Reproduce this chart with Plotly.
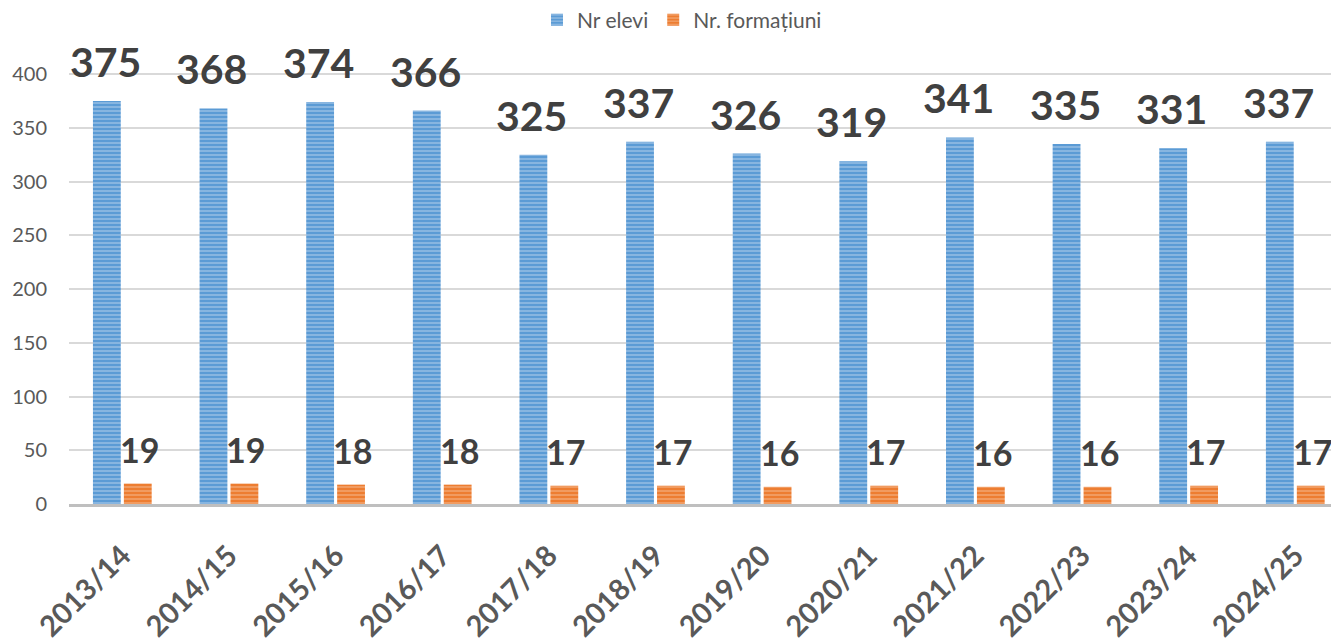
import plotly.graph_objects as go

categories = ["2013/14", "2014/15", "2015/16", "2016/17", "2017/18", "2018/19",
              "2019/20", "2020/21", "2021/22", "2022/23", "2023/24", "2024/25"]
nr_elevi = [375, 368, 374, 366, 325, 337, 326, 319, 341, 335, 331, 337]
nr_formatiuni = [19, 19, 18, 18, 17, 17, 16, 17, 16, 16, 17, 17]
y_ticks = [0, 50, 100, 150, 200, 250, 300, 350, 400]

BLUE = "#5B9BD5"
BLUE_LIGHT = "#C9DDF2"
ORANGE = "#ED7D31"
ORANGE_LIGHT = "#F8C9A8"
LABEL = "#404040"
AXIS_TXT = "#595959"
FONT = "Lato"

fig = go.Figure()
fig.add_trace(go.Bar(
    x=categories, y=nr_elevi, name="Nr elevi",
    marker=dict(color=BLUE, line=dict(width=0),
                pattern=dict(shape="-", fgcolor=BLUE_LIGHT, bgcolor=BLUE,
                             size=4, solidity=0.4, fillmode="overlay")),
))
fig.add_trace(go.Bar(
    x=categories, y=nr_formatiuni, name="Nr. formațiuni",
    marker=dict(color=ORANGE, line=dict(width=0),
                pattern=dict(shape="-", fgcolor=ORANGE_LIGHT, bgcolor=ORANGE,
                             size=4, solidity=0.4, fillmode="overlay")),
))

annotations = []
for c, v in zip(categories, nr_elevi):
    annotations.append(dict(x=c, y=v, text=str(v), showarrow=False,
                            xanchor="center", yanchor="bottom", xshift=-17, yshift=13,
                            font=dict(family=FONT, size=41, color=LABEL, weight="bold")))
for c, v in zip(categories, nr_formatiuni):
    annotations.append(dict(x=c, y=v, text=str(v), showarrow=False,
                            xanchor="center", yanchor="bottom", xshift=17, yshift=12,
                            font=dict(family=FONT, size=34, color=LABEL, weight="bold")))

# page body has an 8px default margin, so the figure is 8px smaller
fig.update_layout(
    width=1331, height=636,
    margin=dict(l=61, r=0, t=65, b=140, autoexpand=False),
    paper_bgcolor="white", plot_bgcolor="white",
    barmode="group", bargap=0.42, bargroupgap=0.1,
    font=dict(family=FONT, color=AXIS_TXT),
    showlegend=True,
    legend=dict(orientation="h", x=0.3685, xanchor="left", y=1.123, yanchor="middle",
                font=dict(family=FONT, size=21, color=AXIS_TXT),
                itemwidth=30),
    annotations=annotations,
)
fig.update_xaxes(
    range=[-0.5, 11.41], tickangle=-45, automargin=False,
    tickfont=dict(family=FONT, size=29, color=AXIS_TXT, weight="bold"),
    showline=True, linecolor="#BFBFBF", linewidth=3,
    showgrid=False, ticks="", ticklabelstandoff=20,
)
fig.update_yaxes(
    range=[0, 401], tickvals=y_ticks, automargin=False,
    tickfont=dict(family=FONT, size=20, color=AXIS_TXT),
    showgrid=True, gridcolor="#D9D9D9", gridwidth=1.5,
    zeroline=False, showline=False, ticks="", ticklabelstandoff=21,
)

fig.write_html("out.html")
